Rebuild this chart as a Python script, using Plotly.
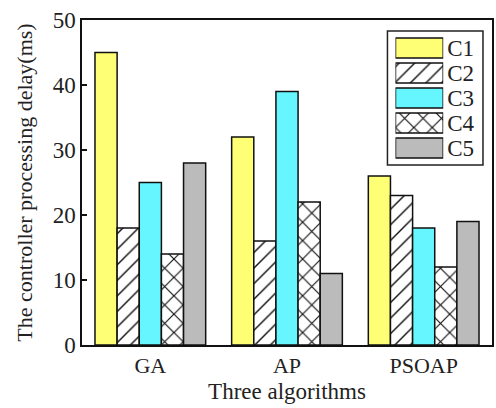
import plotly.graph_objects as go

categories = ["GA", "AP", "PSOAP"]
series_names = ["C1", "C2", "C3", "C4", "C5"]
values = {
    "C1": [45, 32, 26],
    "C2": [18, 16, 23],
    "C3": [25, 39, 18],
    "C4": [14, 22, 12],
    "C5": [28, 11, 19],
}
y_ticks = [0, 10, 20, 30, 40, 50]

colors = {"C1": "#FFFF75", "C2": "white", "C3": "#66F6FF", "C4": "white", "C5": "#BBBBBB"}
patterns = {"C1": "", "C2": "/", "C3": "", "C4": "x", "C5": ""}
pattern_size = {"C1": 11, "C2": 11, "C3": 11, "C4": 13, "C5": 11}
pattern_solidity = {"C1": 0.13, "C2": 0.13, "C3": 0.13, "C4": 0.17, "C5": 0.13}

FONT = "Liberation Serif"
TXT = "#222"


def marker_for(s):
    return dict(color=colors[s], line=dict(color="#111", width=1.5),
                pattern=dict(shape=patterns[s], fgcolor="#111", bgcolor="white", fgopacity=1,
                             size=pattern_size[s], solidity=pattern_solidity[s], fillmode="overlay"))


fig = go.Figure()
for s in series_names:
    fig.add_trace(go.Bar(x=categories, y=values[s], name=s, showlegend=False, marker=marker_for(s)))

# custom legend swatches
for s in series_names:
    fig.add_trace(go.Bar(
        x=[1], y=[s], orientation="h", xaxis="x2", yaxis="y2", showlegend=False,
        width=0.8, hoverinfo="skip", marker=marker_for(s),
    ))

fig.update_layout(
    width=496, height=408,
    margin=dict(l=82, r=2, t=20, b=63),
    paper_bgcolor="white", plot_bgcolor="white",
    barmode="group", bargap=0.19, bargroupgap=0,
    font=dict(family=FONT, size=23, color=TXT),
    xaxis=dict(
        range=[-0.5, 2.5], showline=True, mirror=True, linecolor="#111", linewidth=1.5,
        ticks="", tickfont=dict(size=22, family=FONT, color=TXT),
        title=dict(text="Three algorithms", font=dict(size=23, family=FONT, color=TXT), standoff=6),
        showgrid=False,
    ),
    yaxis=dict(
        range=[0, 50], tickvals=y_ticks, showline=True, mirror=True, linecolor="#111", linewidth=1.5,
        ticks="inside", ticklen=5, tickcolor="#111", tickwidth=1.5,
        tickfont=dict(size=23, family=FONT, color=TXT),
        title=dict(text="The controller processing delay(ms)", font=dict(size=22, family=FONT, color=TXT), standoff=14),
        showgrid=False, zeroline=False,
    ),
    xaxis2=dict(domain=[0.7646, 0.881], range=[0, 1], anchor="y2", visible=False, fixedrange=True),
    yaxis2=dict(domain=[0.5677, 0.952], anchor="x2", side="right", autorange="reversed",
                tickmode="array", tickvals=series_names, ticktext=series_names,
                showline=False, showgrid=False, ticks="", ticklabelstandoff=3,
                tickfont=dict(size=23, family=FONT, color=TXT), fixedrange=True),
    shapes=[dict(type="rect", xref="paper", yref="paper", x0=0.745, x1=0.978, y0=0.554, y1=0.966,
                 line=dict(color="#222", width=1.5), fillcolor="rgba(0,0,0,0)", layer="below")],
)

fig.write_html("out.html")
